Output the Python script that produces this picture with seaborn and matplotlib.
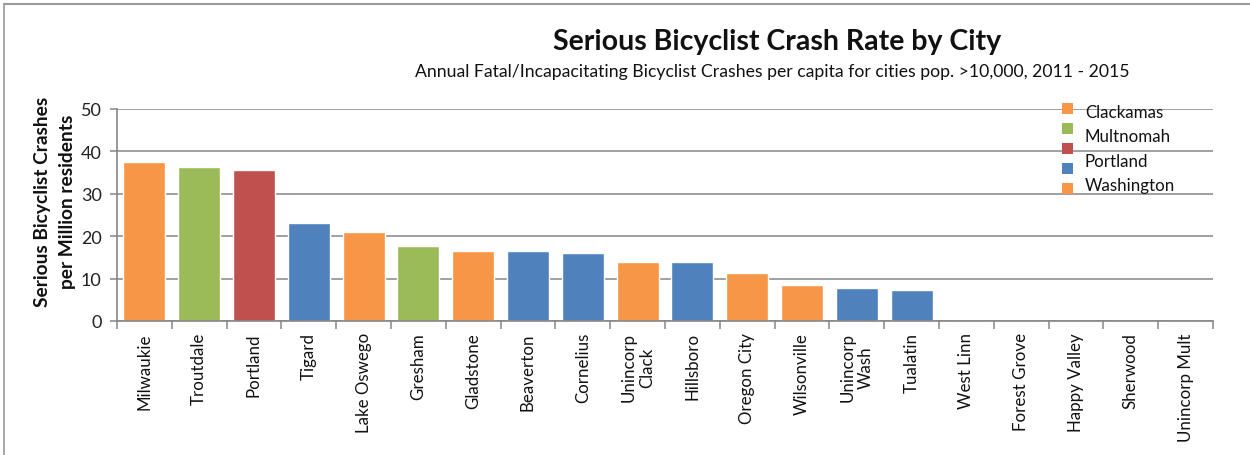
import matplotlib
matplotlib.use("Agg")
import matplotlib.pyplot as plt
from matplotlib.patches import Rectangle
from matplotlib.ticker import FixedLocator
import seaborn as sns
import pandas as pd
import numpy as np

# Data
cities = ["Milwaukie", "Troutdale", "Portland", "Tigard", "Lake Oswego", "Gresham",
          "Gladstone", "Beaverton", "Cornelius", "Unincorp\nClack", "Hillsboro",
          "Oregon City", "Wilsonville", "Unincorp\nWash", "Tualatin", "West Linn",
          "Forest Grove", "Happy Valley", "Sherwood", "Unincorp Mult"]
rates = [37.5, 36.4, 35.7, 23.2, 21.0, 17.7, 16.6, 16.6, 16.1, 14.0, 14.0,
         11.4, 8.6, 7.8, 7.4, 0, 0, 0, 0, 0]
county = ["Clackamas", "Multnomah", "Portland", "Washington", "Clackamas", "Multnomah",
          "Clackamas", "Washington", "Washington", "Clackamas", "Washington",
          "Clackamas", "Clackamas", "Washington", "Washington", "Clackamas",
          "Washington", "Clackamas", "Washington", "Multnomah"]
county_colors = {"Clackamas": "#F79646", "Multnomah": "#9BBB59",
                 "Portland": "#C0504D", "Washington": "#4F81BD"}
legend_labels = ["Clackamas", "Multnomah", "Portland", "Washington"]
legend_swatches = ["#F79646", "#9BBB59", "#C0504D", "#4F81BD", "#F79646"]
y_ticks = [0, 10, 20, 30, 40, 50]

df = pd.DataFrame({"city": cities, "rate": rates, "county": county})
palette = {c: county_colors[k] for c, k in zip(cities, county)}

sns.set_style("white")
plt.rcParams["font.family"] = ["Lato", "DejaVu Sans"]

fig = plt.figure(figsize=(12.5, 4.56), dpi=100)
ax = fig.add_axes([117 / 1250, 1 - 322 / 456, (1213 - 117) / 1250, (322 - 110) / 456])

sns.barplot(data=df, x="city", y="rate", hue="city", palette=palette,
            width=0.77, legend=False, ax=ax, saturation=1)

grid_c = "#868686"
ax.set_ylim(0, 50)
ax.set_xlim(-0.5, len(cities) - 0.5)
ax.set_yticks(y_ticks)
ax.set_yticklabels([str(t) for t in y_ticks], fontsize=13, color="#222222")
ax.yaxis.grid(True, color=grid_c, linewidth=1.1)
ax.set_axisbelow(True)
for s in ["top", "right"]:
    ax.spines[s].set_visible(False)
for s in ["left", "bottom"]:
    ax.spines[s].set_color(grid_c)
    ax.spines[s].set_linewidth(1.2)
ax.tick_params(axis="y", length=5, width=1.1, color=grid_c, pad=6, left=True)

# Category labels at bar centres, tick marks at category boundaries
ax.set_xticks(np.arange(len(cities)))
ax.set_xticklabels(cities, rotation=90, fontsize=12.2, color="#111111",
                   linespacing=1.2, va="top", ha="center", multialignment="center")
ax.tick_params(axis="x", length=0, pad=8)
ax.xaxis.set_minor_locator(FixedLocator(np.arange(-0.5, len(cities), 1.0)))
ax.tick_params(axis="x", which="minor", length=6, width=1.1, color=grid_c, bottom=True)
ax.set_xlabel("")
ax.set_ylabel("")
fig.text(55 / 1250, 1 - 202 / 456, "Serious Bicyclist Crashes\nper Million residents",
         rotation=90, ha="center", va="center", fontsize=13.8, fontweight="bold",
         linespacing=1.5, color="#111111")

# Titles
fig.text(777 / 1250, 1 - 42 / 456, "Serious Bicyclist Crash Rate by City",
         ha="center", va="center", fontsize=20.5, fontweight="bold", color="#111111")
fig.text(772 / 1250, 1 - 72 / 456,
         "Annual Fatal/Incapacitating Bicyclist Crashes per capita for cities pop. >10,000, 2011 - 2015",
         ha="center", va="center", fontsize=12.7, color="#111111")

# Legend
sq = 11
for i, col in enumerate(legend_swatches):
    yc = 109 + 20.2 * i
    fig.patches.append(Rectangle((1062 / 1250, 1 - (yc + sq / 2) / 456), sq / 1250, sq / 456,
                                 transform=fig.transFigure, facecolor=col, edgecolor="none"))
for i, lab in enumerate(legend_labels):
    yc = 113 + 24.3 * i
    fig.text(1085 / 1250, 1 - yc / 456, lab, ha="left", va="center", fontsize=12.2, color="#111111")

# Chart frame
frame_c = "#9a9a9a"
fig.add_artist(plt.Line2D([4 / 1250, 1], [1 - 5 / 456, 1 - 5 / 456],
                          transform=fig.transFigure, color=frame_c, linewidth=1.5))
fig.add_artist(plt.Line2D([4 / 1250, 4 / 1250], [0, 1 - 5 / 456],
                          transform=fig.transFigure, color=frame_c, linewidth=1.2))

fig.savefig("out.png", dpi=100)
